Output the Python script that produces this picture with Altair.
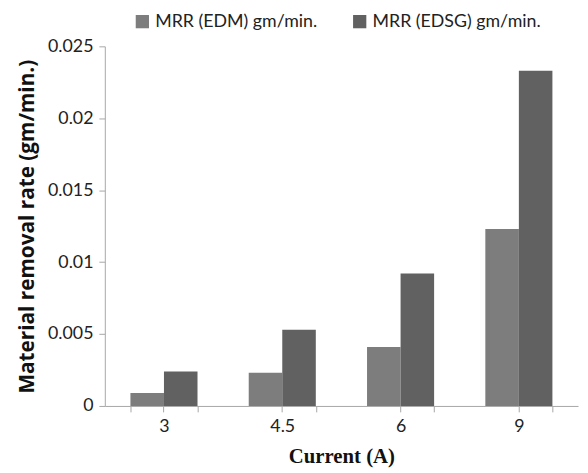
import altair as alt
import pandas as pd

currents = ["3", "4.5", "6", "9"]
series = ["MRR (EDM) gm/min.", "MRR (EDSG) gm/min."]
mrr_edm = [0.0009, 0.0023, 0.0041, 0.0123]
mrr_edsg = [0.0024, 0.0053, 0.0092, 0.0233]
colors = ["#7d7d7d", "#616161"]
y_ticks = [0, 0.005, 0.01, 0.015, 0.02, 0.025]

rows = []
for c, a, b in zip(currents, mrr_edm, mrr_edsg):
    rows.append({"Current": c, "Series": series[0], "MRR": a})
    rows.append({"Current": c, "Series": series[1], "MRR": b})
df = pd.DataFrame(rows)

FONT = "Lato"

x_scale = alt.Scale(domain=currents, paddingInner=0.433, paddingOuter=0.2165)

bars = alt.Chart(df).mark_bar(stroke=None).encode(
    x=alt.X(
        "Current:N",
        sort=currents,
        scale=x_scale,
        axis=alt.Axis(
            orient="bottom",
            title="Current (A)",
            titleFont="Liberation Serif",
            titleFontSize=21,
            titleFontWeight="bold",
            titleColor="#111111",
            titlePadding=10,
            labelFont=FONT,
            labelFontSize=18,
            labelColor="#222222",
            labelAngle=0,
            labelPadding=6,
            tickBand="extent",
            tickSize=6,
            tickColor="#a6a6a6",
            domainColor="#a6a6a6",
            grid=False,
        ),
    ),
    xOffset=alt.XOffset("Series:N", sort=series),
    y=alt.Y(
        "MRR:Q",
        scale=alt.Scale(domain=[0, 0.025], nice=False),
        axis=alt.Axis(
            values=y_ticks,
            format=".3~f",
            title="Material removal rate (gm/min.)",
            titleFont="Open Sans",
            titleFontSize=21,
            titleFontWeight="bold",
            titleColor="#111111",
            titlePadding=10,
            labelFont=FONT,
            labelFontSize=18,
            labelColor="#222222",
            labelPadding=6,
            tickSize=6,
            tickColor="#a6a6a6",
            domainColor="#a6a6a6",
            grid=False,
        ),
    ),
    color=alt.Color(
        "Series:N",
        sort=series,
        scale=alt.Scale(domain=series, range=colors),
        legend=alt.Legend(
            title=None,
            orient="none",
            direction="horizontal",
            legendX=29,
            legendY=-34,
            symbolType="square",
            symbolSize=180,
            symbolStrokeWidth=0,
            labelFont=FONT,
            labelFontSize=18,
            labelColor="#222222",
            labelOffset=4,
            labelLimit=0,
            columnPadding=33,
        ),
    ),
)

centre_ticks = alt.Chart(df).mark_bar(opacity=0).encode(
    x=alt.X(
        "Current:N",
        sort=currents,
        scale=x_scale,
        axis=alt.Axis(
            orient="bottom",
            title=None,
            labels=False,
            domain=False,
            tickSize=6,
            tickColor="#a6a6a6",
            grid=False,
        ),
    ),
    y=alt.Y("MRR:Q"),
)

chart = (
    alt.layer(bars, centre_ticks)
    .resolve_axis(x="independent")
    .properties(
        width=479,
        height=364,
        autosize=alt.AutoSizeParams(type="none"),
        padding={"left": 98, "top": 36, "right": 2, "bottom": 60},
    )
    .configure_view(stroke=None)
)

chart.save("out.html", embed_options={"renderer": "svg", "actions": False})
